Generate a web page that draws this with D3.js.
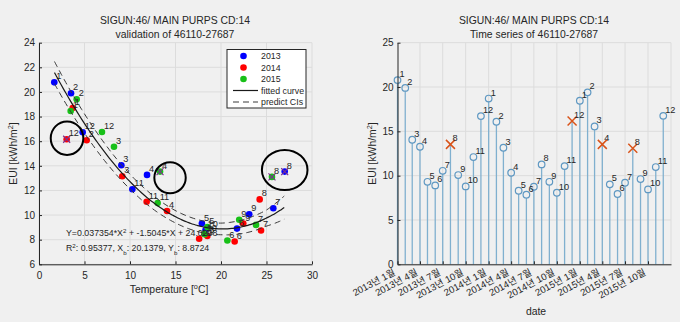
<!DOCTYPE html>
<html>
<head>
<meta charset="utf-8">
<script src="https://cdn.jsdelivr.net/npm/d3@7"></script>
<style>
  body { margin: 0; background: #f0f0f0; }
  text { font-family: "Liberation Sans", Arial, "Noto Sans CJK KR", sans-serif; fill: #262626; }
  .grid line { stroke: #dcdcdc; stroke-width: 1; }
  .axis path, .axis line { stroke: #262626; }
</style>
</head>
<body>
<svg id="chart" width="680" height="322"></svg>
<script>
// ---- data ----
const years = [2013, 2014, 2015];
const monthNums = [1, 2, 3, 4, 5, 6, 7, 8, 9, 10, 11, 12];

const eui2013 = [20.78, 19.9, 14.05, 13.26, 9.31, 8.9, 10.55, 13.53, 10.07, 8.79, 12.1, 16.72];
const eui2014 = [18.7, 16.08, 13.15, 10.33, 8.3, 7.85, 8.75, 11.27, 9.31, 8.07, 11.08, 16.16];
const eui2015 = [18.45, 19.4, 15.55, 13.53, 9.02, 7.93, 9.2, 13.1, 9.62, 8.45, 10.97, 16.75];

const temp2013 = [1.68, 3.52, 9.05, 11.87, 17.9, 21.76, 25.75, 27.0, 23.1, 18.3, 10.26, 4.8];
const temp2014 = [3.7, 5.24, 9.15, 14.07, 18.5, 21.5, 24.4, 24.25, 22.45, 17.6, 11.83, 3.04];
const temp2015 = [3.48, 4.14, 8.24, 13.3, 18.5, 20.7, 23.85, 25.6, 22.0, 18.2, 13.04, 6.92];

// flagged months (year, month)
const outlierYears = [2013, 2014, 2015, 2015];
const outlierMonths = [8, 12, 4, 8];

// quadratic fit printed on the chart
const fitCoef = [0.037354, -1.5045, 24.0208];
const fitRange = [1.7, 27];
// prediction interval half-width, read at a few temperatures
const ciTemp = [1.7, 5, 10, 15, 20, 25, 27];
const ciHalf = [0.9, 0.78, 0.6, 0.5, 0.47, 0.65, 0.95];

// hand-drawn circles (centres in data units)
const ringTemp = [3.08, 14.4, 27.0];
const ringEui = [16.24, 13.03, 13.66];

const xTicksL = [0, 5, 10, 15, 20, 25, 30];
const yTicksL = [6, 8, 10, 12, 14, 16, 18, 20, 22, 24];
const yTicksR = [0, 5, 10, 15, 20, 25];

const legendLabels = ["2013", "2014", "2015", "fitted curve", "predict CIs"];
const yearColors = ["#0000ff", "#ff0000", "#18c018"];

// ---- build rows ----
const euiByYear = [eui2013, eui2014, eui2015];
const tempByYear = [temp2013, temp2014, temp2015];
const rows = [];
years.forEach((yr, yi) => {
  monthNums.forEach((m, mi) => {
    const out = outlierYears.some((oy, k) => oy === yr && outlierMonths[k] === m);
    rows.push({year: yr, yi: yi, month: m, date: new Date(yr, m - 1, 1),
               eui: euiByYear[yi][mi], temp: tempByYear[yi][mi], out: out});
  });
});

const svg = d3.select("#chart");
const font = 9.2;

function supText(sel, parts) {
  // parts: [text, "sup"|"sub"|null]
  parts.forEach(p => {
    const t = sel.append("tspan").text(p[0]);
    if (p[1] === "sup") t.attr("font-size", "0.7em").attr("baseline-shift", "super");
    if (p[1] === "sub") t.attr("font-size", "0.7em").attr("baseline-shift", "sub");
  });
}

// ================= LEFT: scatter + fit =================
const xL = d3.scaleLinear().domain([0, 30]).range([39, 312]);
const yL = d3.scaleLinear().domain([6, 24]).range([264.3, 42.7]);
const gL = svg.append("g");

gL.append("g").attr("class", "grid")
  .selectAll("line.v").data(xTicksL).join("line")
  .attr("x1", d => xL(d)).attr("x2", d => xL(d)).attr("y1", yL(6)).attr("y2", yL(24));
gL.append("g").attr("class", "grid")
  .selectAll("line.h").data(yTicksL).join("line")
  .attr("x1", xL(0)).attr("x2", xL(30)).attr("y1", d => yL(d)).attr("y2", d => yL(d));

gL.append("g").attr("class", "axis")
  .attr("transform", `translate(0,${yL(6)})`)
  .call(d3.axisBottom(xL).tickValues(xTicksL).tickSizeInner(-3).tickSizeOuter(0).tickPadding(8))
  .call(g => g.selectAll("text").attr("font-size", 10));
gL.append("g").attr("class", "axis")
  .attr("transform", `translate(${xL(0)},0)`)
  .call(d3.axisLeft(yL).tickValues(yTicksL).tickSizeInner(-3).tickSizeOuter(0).tickPadding(4))
  .call(g => g.selectAll("text").attr("font-size", 10));
gL.selectAll(".axis").attr("font-family", null);

// points
gL.append("g").selectAll("circle").data(rows).join("circle")
  .attr("cx", d => xL(d.temp)).attr("cy", d => yL(d.eui)).attr("r", 3.3)
  .attr("fill", d => yearColors[d.yi]);

// flagged points get a purple cross
gL.append("g").selectAll("path").data(rows.filter(d => d.out)).join("path")
  .attr("d", d => { const x = xL(d.temp), y = yL(d.eui), s = 3.5;
    return `M${x - s},${y - s}L${x + s},${y + s}M${x - s},${y + s}L${x + s},${y - s}`; })
  .attr("stroke", "#7e2f8e").attr("stroke-width", 1.2).attr("fill", "none");

// month labels
gL.append("g").selectAll("text").data(rows).join("text")
  .attr("x", d => xL(d.temp) + 2).attr("y", d => yL(d.eui) - 3)
  .attr("font-size", font).text(d => d.month);

// fitted curve and prediction interval
const fit = t => fitCoef[0] * t * t + fitCoef[1] * t + fitCoef[2];
const fitT = d3.range(fitRange[0], fitRange[1] + 0.001, 0.25);
const halfAt = d3.scaleLinear().domain(ciTemp).range(ciHalf);
const line = d3.line().x(d => xL(d[0])).y(d => yL(d[1])).curve(d3.curveBasis);
gL.append("path").datum(fitT.map(t => [t, fit(t)])).attr("d", line)
  .attr("fill", "none").attr("stroke", "#1a1a1a").attr("stroke-width", 1.2);
[1, -1].forEach(sgn => {
  gL.append("path").datum(fitT.map(t => [t, fit(t) + sgn * halfAt(t)])).attr("d", line)
    .attr("fill", "none").attr("stroke", "#3a3a3a").attr("stroke-width", 1)
    .attr("stroke-dasharray", "6,4");
});

// annotation rings
const ringRx = [16.3, 15.7, 22.8], ringRy = [16.7, 15.5, 20];
gL.append("g").selectAll("ellipse").data(ringTemp).join("ellipse")
  .attr("cx", d => xL(d)).attr("cy", (d, i) => yL(ringEui[i]))
  .attr("rx", (d, i) => ringRx[i]).attr("ry", (d, i) => ringRy[i])
  .attr("fill", "none").attr("stroke", "#000").attr("stroke-width", 2);

// equation text
const eq1 = gL.append("text").attr("x", 66).attr("y", 236).attr("font-size", 8.8);
supText(eq1, [["Y=0.037354*X"], ["2", "sup"], [" + -1.5045*X + 24.0208"]]);
const eq2 = gL.append("text").attr("x", 66).attr("y", 251).attr("font-size", 8.8);
supText(eq2, [["R"], ["2", "sup"], [": 0.95377, X"], ["b", "sub"], [": 20.1379, Y"], ["b", "sub"], [": 8.8724"]]);

// legend
const lg = gL.append("g").attr("transform", "translate(227,49.5)");
lg.append("rect").attr("width", 79).attr("height", 58.5).attr("fill", "#fff")
  .attr("stroke", "#262626").attr("stroke-width", 1);
legendLabels.forEach((lab, i) => {
  const y = 6.5 + i * 11.5;
  if (i < 3) {
    lg.append("circle").attr("cx", 16.5).attr("cy", y).attr("r", 3.3).attr("fill", yearColors[i]);
  } else {
    lg.append("line").attr("x1", 6).attr("x2", 31).attr("y1", y).attr("y2", y)
      .attr("stroke", i === 3 ? "#1a1a1a" : "#3a3a3a").attr("stroke-width", i === 3 ? 1.2 : 1)
      .attr("stroke-dasharray", i === 3 ? null : "6,4");
  }
  lg.append("text").attr("x", 34).attr("y", y + 3).attr("font-size", 8.8).text(lab);
});

// titles and axis labels
gL.append("text").attr("x", 175).attr("y", 24).attr("text-anchor", "middle")
  .attr("font-size", 10.4).text("SIGUN:46/ MAIN PURPS CD:14");
gL.append("text").attr("x", 175).attr("y", 38).attr("text-anchor", "middle")
  .attr("font-size", 10.4).text("validation of 46110-27687");
const xlabL = gL.append("text").attr("x", 169).attr("y", 293).attr("text-anchor", "middle").attr("font-size", 10.4);
supText(xlabL, [["Temperature ["], ["o", "sup"], ["C]"]]);
const ylabL = gL.append("text").attr("transform", `translate(17,${yL(15)}) rotate(-90)`)
  .attr("text-anchor", "middle").attr("font-size", 10.4);
supText(ylabL, [["EUI [kWh/m"], ["2", "sup"], ["]"]]);

// ================= RIGHT: time series stems =================
const xR = d3.scaleTime().domain([new Date(2013, 0, 1), new Date(2016, 0, 1)]).range([397.5, 671]);
const yR = d3.scaleLinear().domain([0, 25]).range([264.3, 42.7]);
const gR = svg.append("g");
const xTicksR = d3.timeMonth.every(3).range(new Date(2013, 0, 1), new Date(2016, 0, 1));

gR.append("g").attr("class", "grid")
  .selectAll("line").data(xTicksR.slice(1).concat([new Date(2016, 0, 1)])).join("line")
  .attr("x1", d => xR(d)).attr("x2", d => xR(d)).attr("y1", yR(0)).attr("y2", yR(25));
gR.append("g").attr("class", "grid")
  .selectAll("line").data(yTicksR).join("line")
  .attr("x1", xR.range()[0]).attr("x2", xR.range()[1]).attr("y1", d => yR(d)).attr("y2", d => yR(d));

const stemColor = "#80b0cf";
gR.append("g").selectAll("line").data(rows).join("line")
  .attr("x1", d => xR(d.date)).attr("x2", d => xR(d.date))
  .attr("y1", yR(0)).attr("y2", d => yR(d.eui) + (d.out ? 0 : 3.3))
  .attr("stroke", stemColor).attr("stroke-width", 1.3);
gR.append("g").selectAll("circle").data(rows.filter(d => !d.out)).join("circle")
  .attr("cx", d => xR(d.date)).attr("cy", d => yR(d.eui)).attr("r", 3.3)
  .attr("fill", "none").attr("stroke", "#5f98c2").attr("stroke-width", 1.2);
gR.append("g").selectAll("path").data(rows.filter(d => d.out)).join("path")
  .attr("d", d => { const x = xR(d.date), y = yR(d.eui), s = 4.5;
    return `M${x - s},${y - s}L${x + s},${y + s}M${x - s},${y + s}L${x + s},${y - s}`; })
  .attr("stroke", "#d95319").attr("stroke-width", 1.5).attr("fill", "none");
gR.append("g").selectAll("text").data(rows).join("text")
  .attr("x", d => xR(d.date) + 2).attr("y", d => yR(d.eui) - 3)
  .attr("font-size", font).text(d => d.month);

gR.append("g").attr("class", "axis")
  .attr("transform", `translate(0,${yR(0)})`)
  .call(d3.axisBottom(xR).tickValues(xTicksR).tickSizeInner(-3).tickSizeOuter(0)
    .tickFormat(d => `${d.getFullYear()}년 ${d.getMonth() + 1}월`))
  .call(g => g.selectAll("text").attr("font-size", 9.5).attr("text-anchor", "end")
    .attr("dy", null).attr("y", 0)
    .attr("transform", "translate(-2,10) rotate(-28)"));
gR.append("g").attr("class", "axis")
  .attr("transform", `translate(${xR.range()[0]},0)`)
  .call(d3.axisLeft(yR).tickValues(yTicksR).tickSizeInner(-3).tickSizeOuter(0).tickPadding(4))
  .call(g => g.selectAll("text").attr("font-size", 10));
gR.selectAll(".axis").attr("font-family", null);

gR.append("text").attr("x", 534).attr("y", 24).attr("text-anchor", "middle")
  .attr("font-size", 10.4).text("SIGUN:46/ MAIN PURPS CD:14");
gR.append("text").attr("x", 534).attr("y", 38).attr("text-anchor", "middle")
  .attr("font-size", 10.4).text("Time series of 46110-27687");
gR.append("text").attr("x", 536).attr("y", 315).attr("text-anchor", "middle")
  .attr("font-size", 10.4).text("date");
const ylabR = gR.append("text").attr("transform", `translate(376,${yR(12.5)}) rotate(-90)`)
  .attr("text-anchor", "middle").attr("font-size", 10.4);
supText(ylabR, [["EUI [kWh/m"], ["2", "sup"], ["]"]]);
</script>
</body>
</html>
